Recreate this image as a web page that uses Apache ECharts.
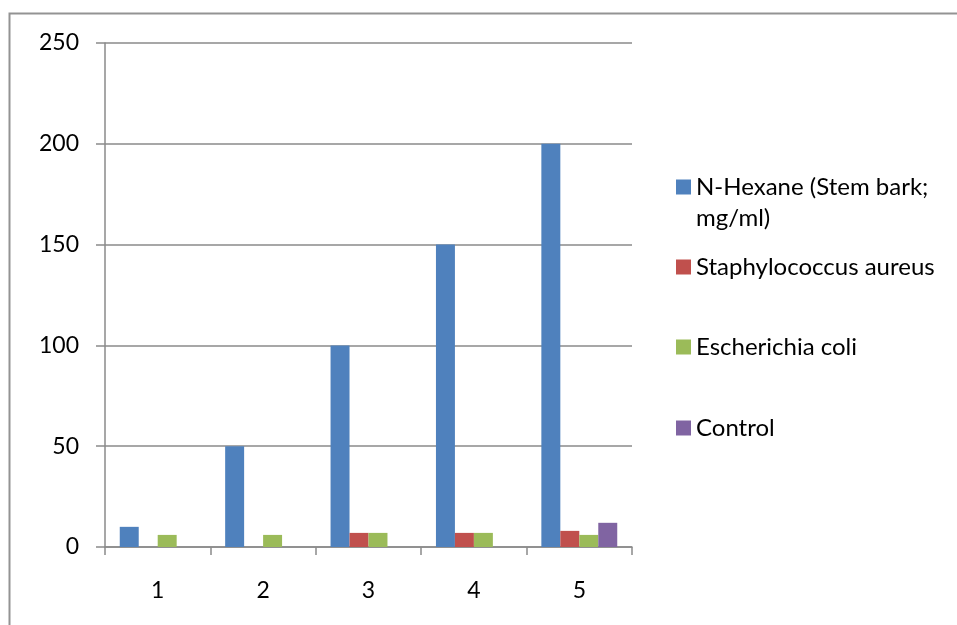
<!DOCTYPE html>
<html>
<head>
<meta charset="utf-8">
<script src="https://cdn.jsdelivr.net/npm/echarts@6/dist/echarts.min.js"></script>
<style>
  html, body { margin: 0; padding: 0; background: #ffffff; }
  #chart { width: 957px; height: 625px; }
</style>
</head>
<body>
<div id="chart"></div>
<script>
// Concentration steps on the x axis
const categories = ['1', '2', '3', '4', '5'];

// Series names, as shown in the legend
const seriesNames = [
  'N-Hexane (Stem bark;\nmg/ml)',
  'Staphylococcus aureus',
  'Escherichia coli',
  'Control'
];

// Values per concentration step (null = no bar drawn)
const hexaneValues = [10, 50, 100, 150, 200];
const staphValues = [null, null, 7, 7, 8];
const ecoliValues = [6, 6, 7, 7, 6];
const controlValues = [null, null, null, null, 12];

// Value axis ticks
const yTicks = [0, 50, 100, 150, 200, 250];

const seriesValues = [hexaneValues, staphValues, ecoliValues, controlValues];
const colors = ['#4F81BD', '#C0504D', '#9BBB59', '#8064A2'];

const font = 'Lato, "Open Sans", sans-serif';
const gridColor = '#8a8a8a';

// Each legend entry is placed on its own; for wrapped names, blank lines are
// prepended so the icon sits level with the first text line
const legendCenters = [187, 267, 347, 428];
const lineH = 31;
const legends = seriesNames.map((name, i) => {
  const lines = name.split('\n').length;
  const totalLines = lines * 2 - 1;
  const boxH = totalLines * lineH;
  return {
    data: [name],
    left: 676,
    top: legendCenters[i] - boxH / 2,
    padding: 0,
    itemWidth: 15,
    itemHeight: 15,
    icon: 'rect',
    selectedMode: false,
    formatter: (n) => '\u00a0\n'.repeat(lines - 1) + n,
    textStyle: {
      fontFamily: font,
      fontSize: 24,
      color: '#000000',
      lineHeight: lineH
    }
  };
});

const chart = echarts.init(document.getElementById('chart'), null, { renderer: 'canvas' });

chart.setOption({
  animation: false,
  backgroundColor: '#ffffff',
  grid: { left: 105, right: 325, top: 43, bottom: 78, containLabel: false },
  legend: legends,
  xAxis: {
    type: 'category',
    data: categories,
    boundaryGap: true,
    axisLine: { show: true, lineStyle: { color: gridColor, width: 1.5 } },
    axisTick: { show: true, length: 8, lineStyle: { color: gridColor, width: 1.5 } },
    axisLabel: { margin: 32, fontFamily: font, fontSize: 23, color: '#000000' },
    splitLine: { show: false }
  },
  yAxis: {
    type: 'value',
    min: yTicks[0],
    max: yTicks[yTicks.length - 1],
    interval: yTicks[1] - yTicks[0],
    axisLine: { show: true, lineStyle: { color: gridColor, width: 1.5 } },
    axisTick: { show: true, length: 9, lineStyle: { color: gridColor, width: 1.5 } },
    axisLabel: { margin: 26, fontFamily: font, fontSize: 23, color: '#000000' },
    splitLine: { show: true, lineStyle: { color: gridColor, width: 1.5 } }
  },
  series: seriesNames.map((name, i) => ({
    name: name,
    type: 'bar',
    data: seriesValues[i],
    barGap: '0%',
    barCategoryGap: '28%',
    itemStyle: { color: colors[i] }
  })),
  graphic: [
    {
      type: 'polyline',
      silent: true,
      shape: { points: [[9.5, 625], [9.5, 13.5], [957, 13.5]] },
      style: { stroke: '#939393', lineWidth: 2, fill: null }
    }
  ]
});
</script>
</body>
</html>
